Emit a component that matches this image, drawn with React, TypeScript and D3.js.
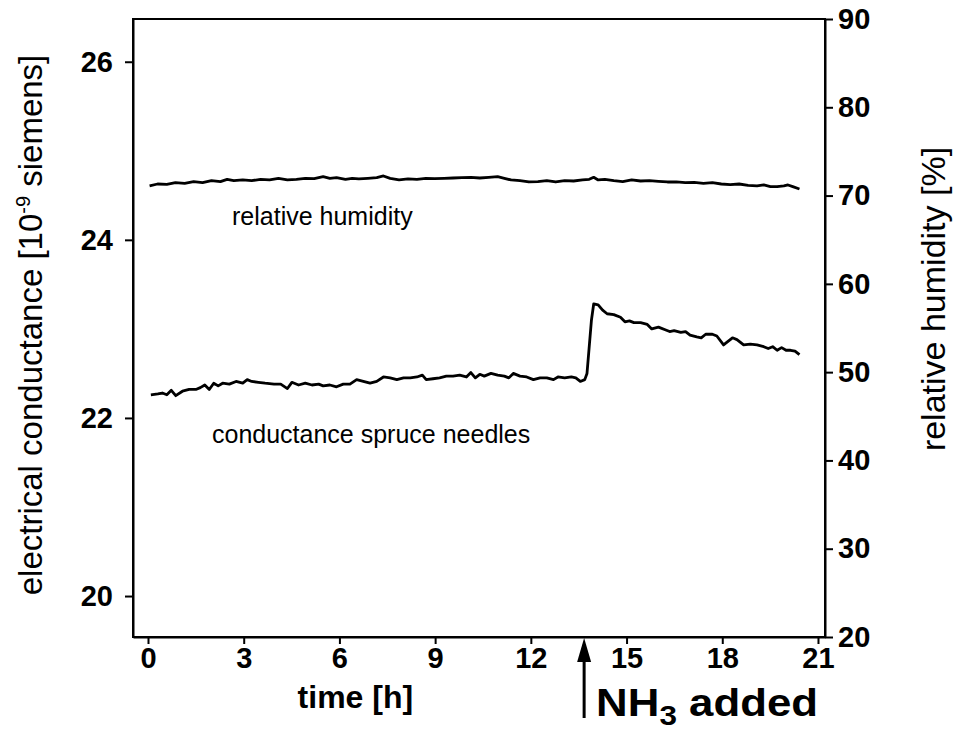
import React, { useEffect, useRef } from 'react';
import * as d3 from 'd3';

// conductance of spruce needles, 10^-9 S
const condTime = [0.09, 0.31, 0.45, 0.59, 0.73, 0.87, 1.08, 1.29, 1.5, 1.64, 1.78, 1.92, 2.06, 2.2, 2.34, 2.55, 2.76, 2.97, 3.11, 3.25, 3.46, 3.67, 3.95, 4.16, 4.37, 4.51, 4.72, 4.93, 5.14, 5.35, 5.49, 5.7, 5.91, 6.12, 6.33, 6.54, 6.75, 6.96, 7.17, 7.38, 7.59, 7.8, 8.01, 8.22, 8.43, 8.6, 8.72, 8.93, 9.14, 9.35, 9.56, 9.77, 9.98, 10.12, 10.26, 10.4, 10.54, 10.75, 10.96, 11.17, 11.31, 11.45, 11.66, 11.87, 12.08, 12.29, 12.5, 12.71, 12.85, 13.06, 13.27, 13.41, 13.55, 13.69, 13.76, 13.83, 13.9, 13.97, 14.11, 14.25, 14.39, 14.6, 14.81, 14.95, 15.09, 15.23, 15.44, 15.65, 15.79, 16.0, 16.21, 16.35, 16.49, 16.7, 16.85, 16.99, 17.2, 17.34, 17.48, 17.69, 17.83, 18.04, 18.18, 18.32, 18.46, 18.67, 18.88, 19.09, 19.3, 19.44, 19.58, 19.72, 19.86, 20.0, 20.14, 20.28, 20.42];
const condValue = [22.26, 22.27, 22.28, 22.26, 22.31, 22.25, 22.3, 22.32, 22.32, 22.34, 22.37, 22.32, 22.39, 22.36, 22.39, 22.38, 22.41, 22.39, 22.43, 22.41, 22.4, 22.39, 22.38, 22.38, 22.33, 22.4, 22.37, 22.39, 22.37, 22.38, 22.36, 22.37, 22.35, 22.38, 22.38, 22.43, 22.41, 22.39, 22.41, 22.46, 22.45, 22.43, 22.45, 22.45, 22.46, 22.48, 22.43, 22.44, 22.45, 22.47, 22.47, 22.48, 22.46, 22.51, 22.45, 22.49, 22.47, 22.5, 22.48, 22.47, 22.45, 22.5, 22.47, 22.46, 22.43, 22.45, 22.45, 22.43, 22.46, 22.45, 22.46, 22.45, 22.41, 22.43, 22.5, 22.8, 23.1, 23.28, 23.27, 23.21, 23.17, 23.16, 23.13, 23.08, 23.09, 23.07, 23.07, 23.05, 23.0, 23.02, 22.99, 22.97, 22.98, 22.96, 22.97, 22.93, 22.91, 22.9, 22.94, 22.94, 22.92, 22.82, 22.86, 22.9, 22.88, 22.82, 22.83, 22.82, 22.8, 22.78, 22.8, 22.76, 22.79, 22.76, 22.76, 22.75, 22.71];

// relative humidity, %
const rhTime = [0.05, 0.3, 0.59, 0.86, 1.15, 1.43, 1.71, 1.99, 2.27, 2.48, 2.69, 2.97, 3.25, 3.53, 3.81, 4.09, 4.37, 4.65, 4.93, 5.21, 5.49, 5.7, 5.91, 6.19, 6.4, 6.61, 6.89, 7.17, 7.38, 7.59, 7.87, 8.15, 8.43, 8.71, 8.99, 9.28, 9.56, 9.84, 10.12, 10.4, 10.68, 10.96, 11.17, 11.38, 11.66, 11.94, 12.22, 12.5, 12.78, 13.06, 13.34, 13.62, 13.83, 13.97, 14.11, 14.32, 14.6, 14.88, 15.16, 15.44, 15.72, 16.0, 16.28, 16.56, 16.84, 17.12, 17.41, 17.69, 17.97, 18.25, 18.53, 18.81, 19.09, 19.3, 19.51, 19.72, 19.93, 20.06, 20.21, 20.42];
const rhValue = [71.09, 71.31, 71.27, 71.46, 71.39, 71.58, 71.46, 71.69, 71.58, 71.84, 71.69, 71.77, 71.69, 71.84, 71.77, 71.95, 71.77, 71.84, 71.95, 71.92, 72.14, 71.95, 72.03, 71.84, 71.95, 71.88, 71.95, 72.03, 72.22, 71.95, 71.77, 71.88, 71.84, 71.95, 71.92, 71.95, 71.99, 72.03, 72.07, 71.99, 72.07, 72.14, 71.95, 71.77, 71.69, 71.54, 71.58, 71.69, 71.54, 71.69, 71.65, 71.77, 71.84, 72.07, 71.77, 71.84, 71.69, 71.58, 71.77, 71.65, 71.69, 71.61, 71.54, 71.54, 71.46, 71.5, 71.39, 71.46, 71.31, 71.24, 71.31, 71.16, 71.09, 71.2, 71.01, 71.01, 71.09, 71.2, 71.01, 70.75];

const xTicks = [0, 3, 6, 9, 12, 15, 18, 21];
const condTicks = [20, 22, 24, 26];
const rhTicks = [20, 30, 40, 50, 60, 70, 80, 90];
const nh3Time = 13.67;

function App() {
  const ref = useRef<SVGSVGElement>(null);

  useEffect(() => {
    drawChart();
  }, []);

  function drawChart() {
    const W = 955;
    const H = 733;
    const margin = { top: 19, right: 130, bottom: 96, left: 133 };
    const width = W - margin.left - margin.right;
    const height = H - margin.top - margin.bottom;
    const font = "'Liberation Sans', Arial, sans-serif";

    const root = d3.select(ref.current);
    root.selectAll('*').remove();

    const svg = root
      .append('g')
      .attr('transform', `translate(${margin.left},${margin.top})`);

    const xScale = d3.scaleLinear().domain([-0.47, 21.22]).range([0, width]);
    const yCond = d3.scaleLinear().domain([19.54, 26.48]).range([height, 0]);
    const yRh = d3.scaleLinear().domain([20, 90]).range([height, 0]);

    // frame
    svg.append('rect')
      .attr('width', width)
      .attr('height', height)
      .attr('fill', 'none')
      .attr('stroke', '#000')
      .attr('stroke-width', 2);

    const fmt = d3.format('d');
    const bottom = svg.append('g')
      .attr('transform', `translate(0,${height})`)
      .call(d3.axisBottom(xScale).tickValues(xTicks).tickFormat(fmt).tickSize(7).tickPadding(3).tickSizeOuter(0));
    const left = svg.append('g')
      .call(d3.axisLeft(yCond).tickValues(condTicks).tickFormat(fmt).tickSize(8).tickPadding(12).tickSizeOuter(0));
    const right = svg.append('g')
      .attr('transform', `translate(${width},0)`)
      .call(d3.axisRight(yRh).tickValues(rhTicks).tickFormat(fmt).tickSize(8).tickPadding(5).tickSizeOuter(0));

    [bottom, left, right].forEach(ax => {
      ax.select('.domain').attr('stroke-width', 2);
      ax.selectAll('.tick line').attr('stroke-width', 2);
      ax.selectAll('.tick text')
        .attr('font-family', font)
        .attr('font-weight', 'bold')
        .style('font-size', '29px')
        .attr('fill', '#000');
    });

    // the two traces
    const condLine = d3.line<number>()
      .x((d, i) => xScale(condTime[i]))
      .y(d => yCond(d));
    svg.append('path')
      .datum(condValue)
      .attr('d', condLine)
      .attr('fill', 'none')
      .attr('stroke', '#000')
      .attr('stroke-width', 2.8)
      .attr('stroke-linejoin', 'round');

    const rhLine = d3.line<number>()
      .x((d, i) => xScale(rhTime[i]))
      .y(d => yRh(d));
    svg.append('path')
      .datum(rhValue)
      .attr('d', rhLine)
      .attr('fill', 'none')
      .attr('stroke', '#000')
      .attr('stroke-width', 2.8)
      .attr('stroke-linejoin', 'round');

    // labels on the traces
    svg.append('text')
      .attr('x', 99)
      .attr('y', 206)
      .attr('font-family', font)
      .style('font-size', '25px')
      .text('relative humidity');
    svg.append('text')
      .attr('x', 79)
      .attr('y', 424)
      .attr('font-family', font)
      .style('font-size', '25px')
      .text('conductance spruce needles');

    // axis titles
    svg.append('text')
      .attr('transform', `translate(${42 - margin.left},${325 - margin.top}) rotate(-90)`)
      .attr('text-anchor', 'middle')
      .attr('font-family', font)
      .style('font-size', '33px')
      .call(t => {
        t.append('tspan').text('electrical conductance [10');
        t.append('tspan').attr('dy', -12).style('font-size', '20px').text('-9');
        t.append('tspan').attr('dy', 12).text(' siemens]');
      });

    svg.append('text')
      .attr('transform', `translate(${945 - margin.left},${299 - margin.top}) rotate(-90)`)
      .attr('text-anchor', 'middle')
      .attr('font-family', font)
      .style('font-size', '34px')
      .text('relative humidity [%]');

    svg.append('text')
      .attr('x', xScale(6.5))
      .attr('y', 708 - margin.top)
      .attr('text-anchor', 'middle')
      .attr('font-family', font)
      .attr('font-weight', 'bold')
      .style('font-size', '32px')
      .text('time [h]');

    // NH3 marker
    const ax = xScale(nh3Time);
    svg.append('line')
      .attr('x1', ax)
      .attr('x2', ax)
      .attr('y1', height + 20)
      .attr('y2', 718 - margin.top)
      .attr('stroke', '#000')
      .attr('stroke-width', 3);
    svg.append('path')
      .attr('d', `M${ax},${height + 1} L${ax - 7},${height + 25} L${ax + 7},${height + 25} Z`)
      .attr('fill', '#000');

    svg.append('text')
      .attr('x', ax + 12)
      .attr('y', 716 - margin.top)
      .attr('font-family', font)
      .attr('font-weight', 'bold')
      .style('font-size', '39px')
      .attr('textLength', 222)
      .attr('lengthAdjust', 'spacingAndGlyphs')
      .call(t => {
        t.append('tspan').text('NH');
        t.append('tspan').attr('dy', 9).style('font-size', '28px').text('3');
        t.append('tspan').attr('dy', -9).text(' added');
      });
  }

  return (
    <svg
      ref={ref}
      width={955}
      height={733}
      style={{ position: 'absolute', left: 0, top: 0, background: '#fff' }}
    />
  );
}

export default App;
